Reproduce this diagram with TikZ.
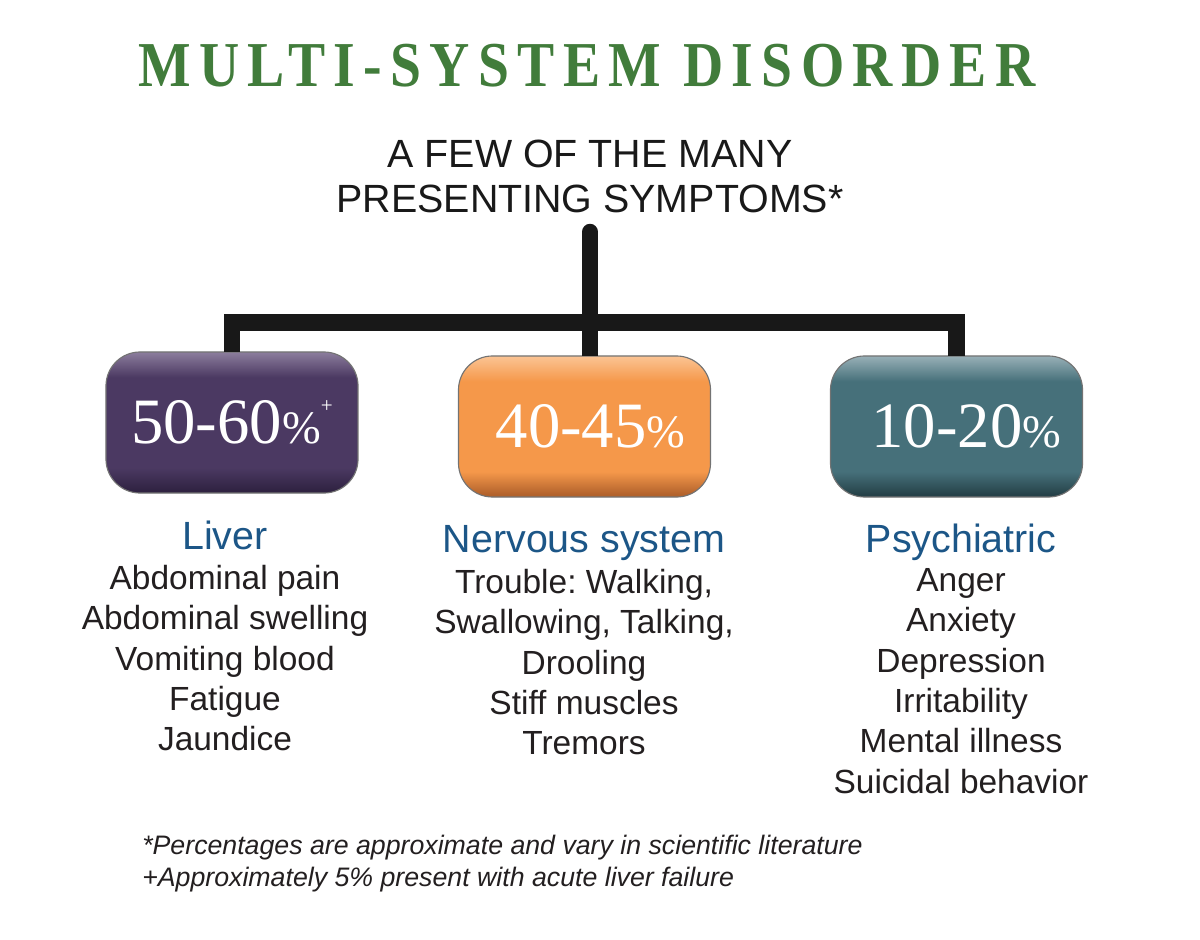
\documentclass[tikz,border=0pt]{standalone}
\usepackage{fontspec}
\setmainfont{Liberation Sans}
\newfontfamily\numfont{Liberation Serif}
\newfontfamily\titlefont[FakeStretch=0.87,LetterSpace=13]{Liberation Serif}
\usetikzlibrary{positioning}
\frenchspacing

\definecolor{titlegreen}{RGB}{65,124,59}
\definecolor{headblue}{RGB}{28,86,135}
\definecolor{bodygray}{RGB}{35,31,32}
\definecolor{barblack}{RGB}{24,24,24}
\definecolor{liverbase}{RGB}{75,57,98}
\definecolor{liverlight}{RGB}{140,125,157}
\definecolor{liverdark}{RGB}{48,35,66}
\definecolor{nervbase}{RGB}{245,152,74}
\definecolor{nervlight}{RGB}{251,196,148}
\definecolor{nervdark}{RGB}{178,98,44}
\definecolor{psychbase}{RGB}{70,112,122}
\definecolor{psychlight}{RGB}{152,176,183}
\definecolor{psychdark}{RGB}{38,66,73}
\colorlet{boxdark}{liverdark}
\colorlet{boxbase}{liverbase}
\colorlet{boxlight}{liverlight}

% glossy fill of the percentage boxes
\pgfdeclareverticalshading[boxdark,boxbase,boxlight]{gloss}{100bp}{%
  color(0bp)=(boxdark); color(26bp)=(boxdark); color(34bp)=(boxbase);
  color(66bp)=(boxbase); color(75bp)=(boxlight); color(100bp)=(boxlight)}

\newcommand\pctsym{{\fontsize{33}{33}\selectfont\%}}

\begin{document}
\begin{tikzpicture}[
  x=0.025cm, y=-0.025cm,
  pctbox/.style={draw=black!55, line width=0.8pt, rounded corners=0.85cm,
                 minimum width=6.3cm, minimum height=3.525cm,
                 inner sep=0pt, outer sep=0pt, text=white,
                 font=\numfont\fontsize{46}{46}\selectfont, shading=gloss,
                 /utils/exec={\colorlet{boxdark}{#1dark}%
                   \colorlet{boxbase}{#1base}\colorlet{boxlight}{#1light}}},
  head/.style={anchor=base, inner sep=0pt, text=headblue,
               font=\fontsize{28}{34}\selectfont},
  symlist/.style={anchor=north, align=center, inner sep=0pt, text=bodygray,
                  font=\fontsize{23.8}{28.7}\selectfont},
  bar/.style={line width=11.7pt, draw=barblack}
]
\path[use as bounding box, fill=white] (0,0) rectangle (1200,939);

\node[anchor=base, inner sep=0pt, text=titlegreen,
      font=\titlefont\bfseries\fontsize{45.5}{45.5}\selectfont]
  (title) at (587,87) {MULTI-SYSTEM DISORDER};
\node[anchor=north, align=center, inner sep=0pt, text=black!90,
      font=\fontsize{28}{32}\selectfont]
  (subtitle) at (590,140) {A FEW OF THE MANY\\PRESENTING SYMPTOMS*};

% percentage boxes
\node[pctbox=liver] (liverbox) at (232,422.5)
  {50-60\pctsym\raisebox{22pt}{\fontsize{15}{15}\selectfont+}};
\node[pctbox=nerv]  (nervbox)  at (584.5,426.5) {\hspace*{8.5pt}40-45\pctsym};
\node[pctbox=psych] (psychbox) at (956.5,426.5) {\hspace*{14pt}10-20\pctsym};

% connectors
\coordinate (trunktop) at (590,232);
\coordinate (bus) at (590,322.5);
\draw[bar, line cap=round] (trunktop) -- (bus);
\draw[bar] (bus) -| (liverbox.north);
\draw[bar] (bus) -| (psychbox.north);
\draw[bar] (bus) -- (bus |- nervbox.north);

% columns
\node[head] (liverhead) at (225,549) {Liver};
\node[head] (nervhead)  at (584,552) {Nervous system};
\node[head] (psychhead) at (961,552) {Psychiatric};
\node[symlist] (liverlist) at (225,565)
  {Abdominal pain\\Abdominal swelling\\Vomiting blood\\Fatigue\\Jaundice};
\node[symlist] (nervlist) at (584,569)
  {Trouble: Walking,\\Swallowing, Talking,\\Drooling\\Stiff muscles\\Tremors};
\node[symlist] (psychlist) at (961,568)
  {Anger\\Anxiety\\Depression\\Irritability\\Mental illness\\Suicidal behavior};

\node[anchor=north west, align=left, inner sep=0pt, text=bodygray,
      font=\itshape\fontsize{19}{23}\selectfont] (notes) at (142,835)
  {*Percentages are approximate and vary in scientific literature\\
   +Approximately 5\% present with acute liver failure};
\end{tikzpicture}
\end{document}
